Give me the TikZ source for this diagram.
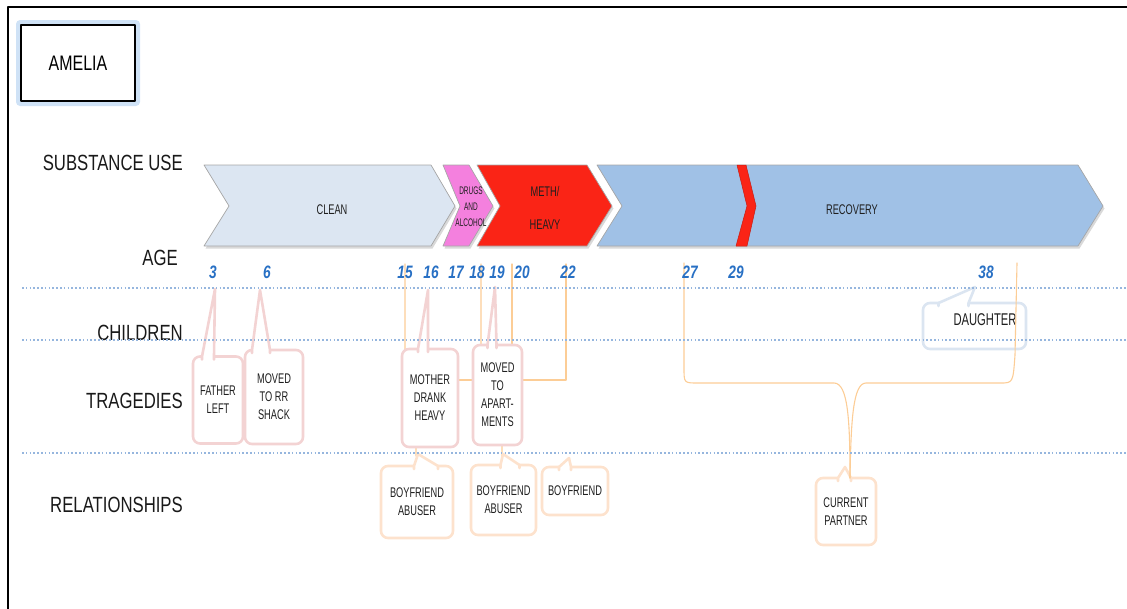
\documentclass[tikz,border=0pt]{standalone}
\usepackage{fontspec}
\setmainfont{Liberation Sans}
\newfontfamily\fontstretta[FakeStretch=0.66]{Liberation Sans}
\newfontfamily\fontetichetta[FakeStretch=0.76]{Liberation Sans}
\newfontfamily\fontdroghe[FakeStretch=0.59]{Liberation Sans}
\usetikzlibrary{shadows}

\definecolor{pulito}{RGB}{220,230,242}
\definecolor{rosa}{RGB}{244,128,222}
\definecolor{rosso}{RGB}{250,36,22}
\definecolor{recupero}{RGB}{160,193,230}
\definecolor{bluEta}{RGB}{40,112,196}
\definecolor{puntini}{RGB}{150,182,222}
\definecolor{arancio}{RGB}{252,205,150}
\definecolor{bordoRosa}{RGB}{243,211,211}
\definecolor{bordoPesca}{RGB}{253,226,205}
\definecolor{bordoAzzurro}{RGB}{219,229,241}
\definecolor{alone}{RGB}{160,198,238}

\begin{document}
\begin{tikzpicture}[x=1pt,y=-1pt,line join=round,line cap=round,
    freccia/.style={draw=black!35,line width=0.7pt,
      drop shadow={opacity=0.3,shadow xshift=1.5pt,shadow yshift=-2.5pt}},
    etichetta/.style={font=\fontetichetta\fontsize{22}{24}\selectfont,text=black!90,anchor=east,inner sep=0pt},
    eta/.style={font=\fontetichetta\bfseries\itshape\fontsize{18}{19}\selectfont,text=bluEta,inner sep=0pt},
    scritta/.style={font=\fontstretta\fontsize{14}{18}\selectfont,text=black!88,align=center,inner sep=0pt},
    fumetto/.style={scritta,rounded corners=7pt,line width=2.6pt,fill=white,outer sep=0pt},
    tragedia/.style={fumetto,draw=bordoRosa},
    relazione/.style={fumetto,draw=bordoPesca},
    figlio/.style={fumetto,draw=bordoAzzurro},
    coda/.style={line width=2.6pt,fill=white},
    guida/.style={draw=arancio,line width=1.1pt},
    riga/.style={draw=puntini,line width=2.4pt,dash pattern=on 1.6pt off 2.2pt,line cap=butt}]

  \useasboundingbox (0,0) rectangle (1127,608);

  % ---- cornice e nome ------------------------------------------------------
  \draw[line width=2pt,line cap=butt] (8,620) -- (8,7) -- (1140,7);
  \fill[alone,opacity=0.5,rounded corners=4pt] (16,20) rectangle (140,106);
  \node[draw,fill=white,line width=2pt,minimum width=114,minimum height=76,
        font=\fontetichetta\fontsize{21}{22}\selectfont] (amelia) at (78,63) {AMELIA};

  % ---- le frecce dell'uso di sostanze --------------------------------------
  \filldraw[freccia,fill=pulito] (204,165) -- (431,165) -- (455,206) -- (431,246)
    -- (204,246) -- (229,206) -- cycle;
  \filldraw[freccia,fill=rosa] (443,165) -- (469,165) -- (493,206) -- (469,246)
    -- (443,246) -- (460,206) -- cycle;
  \filldraw[freccia,fill=rosso] (477,165) -- (587,165) -- (612,206) -- (587,246)
    -- (477,246) -- (500,206) -- cycle;
  \filldraw[freccia,fill=recupero] (597,165) -- (1078,165) -- (1103,206) -- (1078,246)
    -- (597,246) -- (622,206) -- cycle;
  \filldraw[draw=rosso!80!black,line width=0.5pt,fill=rosso] (737,165) -- (746,165) -- (756,206)
    -- (747,246) -- (736,246) -- (747,206) -- cycle;

  \node[scritta] (clean) at (332,210) {CLEAN};
  \node[scritta,font=\fontdroghe\fontsize{11}{16}\selectfont] (droghe) at (471,207) {DRUGS\\AND\\ALCOHOL};
  \node[scritta,font=\fontstretta\fontsize{14}{33}\selectfont] (meth) at (545,208) {METH/\\HEAVY};
  \node[scritta] (recovery) at (852,210) {RECOVERY};

  % ---- etichette delle righe -----------------------------------------------
  \node[etichetta] (lsost) at (183,163) {SUBSTANCE USE};
  \node[etichetta] (leta) at (178,258) {AGE};
  \node[etichetta] (lfigli) at (183,333) {CHILDREN};
  \node[etichetta] (ltrag) at (183,401) {TRAGEDIES};
  \node[etichetta] (lrel) at (183,505) {RELATIONSHIPS};

  % ---- linee guida arancioni -----------------------------------------------
  \coordinate (g15) at (405,264);
  \coordinate (g18) at (481,264);
  \coordinate (g20) at (512,264);
  \coordinate (g22) at (566,264);
  \coordinate (g27) at (684,263);
  \coordinate (g38) at (1017,263);

  \draw[guida] (g15) -- (405,420) -- (416,440) -- (416,456);
  \draw[guida] (g18) -- (481,420) -- (502,440) -- (502,456);
  \draw[guida] (g20) -- (512,360);
  \draw[guida] (g22) -- (566,380) -- (440,380);

  % ---- i fumetti -----------------------------------------------------------
  \node[tragedia,minimum width=50,minimum height=87] (padre) at (218,400) {FATHER\\LEFT};
  \node[tragedia,minimum width=58,minimum height=94] (baracca) at (274,397) {MOVED\\TO RR\\SHACK};
  \node[tragedia,minimum width=56,minimum height=98] (madre) at (430,398) {MOTHER\\DRANK\\HEAVY};
  \node[tragedia,minimum width=49,minimum height=100] (appart) at (497.5,395) {MOVED\\TO\\APART-\\MENTS};
  \node[relazione,minimum width=72,minimum height=72] (abuso1) at (417,502) {BOYFRIEND\\ABUSER};
  \node[relazione,minimum width=65,minimum height=70] (abuso2) at (503.5,500) {BOYFRIEND\\ABUSER};
  \node[relazione,minimum width=66,minimum height=48] (ragazzo) at (575,491) {BOYFRIEND};
  \node[relazione,minimum width=60,minimum height=67] (partner) at (846,511.5) {CURRENT\\PARTNER};
  \node[figlio,minimum width=103,minimum height=46] (figlia) at (974.5,326) {};
  \node[scritta,font=\fontstretta\fontsize{17}{18}\selectfont] (tfiglia) at (985,320) {DAUGHTER};

  % punte delle code
  \coordinate (p3) at (215,289);
  \coordinate (p6) at (260,290);
  \coordinate (p16) at (428,290);
  \coordinate (p19) at (495,287);
  \coordinate (p15) at (418,454);
  \coordinate (p18) at (503,454);
  \coordinate (p22) at (569,458);
  \coordinate (p27) at (845,467);
  \coordinate (p38) at (975,287);

  \filldraw[coda,draw=bordoRosa] ([xshift=-16,yshift=-3]padre.north) -- ([xshift=-16]padre.north)
    -- (p3) -- ([xshift=-4]padre.north) -- ([xshift=-4,yshift=-3]padre.north);
  \filldraw[coda,draw=bordoRosa] ([xshift=-22,yshift=-3]baracca.north) -- ([xshift=-22]baracca.north)
    -- (p6) -- ([xshift=-4]baracca.north) -- ([xshift=-4,yshift=-3]baracca.north);
  \filldraw[coda,draw=bordoRosa] ([xshift=-12,yshift=-3]madre.north) -- ([xshift=-12]madre.north)
    -- (p16) -- ([xshift=-2]madre.north) -- ([xshift=-2,yshift=-3]madre.north);
  \filldraw[coda,draw=bordoRosa] ([xshift=-10,yshift=-3]appart.north) -- ([xshift=-10]appart.north)
    -- (p19) -- ([xshift=-1]appart.north) -- ([xshift=-1,yshift=-3]appart.north);
  \filldraw[coda,draw=bordoPesca] ([xshift=-3,yshift=-3]abuso1.north) -- ([xshift=-3]abuso1.north)
    -- (p15) -- ([xshift=21]abuso1.north) -- ([xshift=21,yshift=-3]abuso1.north);
  \filldraw[coda,draw=bordoPesca] ([xshift=-3,yshift=-3]abuso2.north) -- ([xshift=-3]abuso2.north)
    -- (p18) -- ([xshift=16]abuso2.north) -- ([xshift=16,yshift=-3]abuso2.north);
  \filldraw[coda,draw=bordoPesca] ([xshift=-16,yshift=-3]ragazzo.north) -- ([xshift=-16]ragazzo.north)
    -- (p22) -- ([xshift=-4]ragazzo.north) -- ([xshift=-4,yshift=-3]ragazzo.north);
  \filldraw[coda,draw=bordoPesca] ([xshift=-8,yshift=-3]partner.north) -- ([xshift=-8]partner.north)
    -- (p27) -- ([xshift=5]partner.north) -- ([xshift=5,yshift=-3]partner.north);
  \filldraw[coda,draw=bordoAzzurro] ([xshift=-36,yshift=-3]figlia.north) -- ([xshift=-36]figlia.north)
    -- (p38) -- ([xshift=-6]figlia.north) -- ([xshift=-6,yshift=-3]figlia.north);

  % la graffa verso il partner attuale
  \draw[guida] (g27) -- (684,368) .. controls (684,383) .. (698,383) -- (834,383)
    .. controls (848,383) and (850,420) .. ([xshift=4]partner.north);
  \draw[guida] (g38) -- (1015,355) .. controls (1013,383) .. (1000,383) -- (866,383)
    .. controls (853,383) and (851,420) .. ([xshift=4]partner.north);

  % ---- righe punteggiate ---------------------------------------------------
  \draw[riga] (22,288) -- (1127,288);
  \draw[riga] (22,340) -- (1127,340);
  \draw[riga] (22,453) -- (1127,453);

  % ---- le eta' -------------------------------------------------------------
  \node[eta] (a3) at (213,272) {3};
  \node[eta] (a6) at (267,272) {6};
  \node[eta] (a15) at (405,272) {15};
  \node[eta] (a16) at (431,272) {16};
  \node[eta] (a17) at (456,272) {17};
  \node[eta] (a18) at (477,272) {18};
  \node[eta] (a19) at (497,272) {19};
  \node[eta] (a20) at (522,272) {20};
  \node[eta] (a22) at (568,272) {22};
  \node[eta] (a27) at (690,272) {27};
  \node[eta] (a29) at (736,272) {29};
  \node[eta] (a38) at (986,272) {38};

\end{tikzpicture}
\end{document}
